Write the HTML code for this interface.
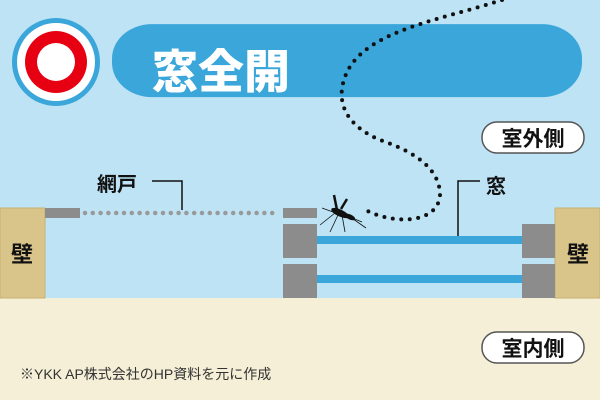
<!DOCTYPE html>
<html><head><meta charset="utf-8"><style>
body{margin:0;width:600px;height:400px;overflow:hidden;background:#bde3f5;font-family:"Liberation Sans","Noto Sans CJK JP",sans-serif;}
</style></head><body>
<svg width="600" height="400" viewBox="0 0 600 400" xmlns="http://www.w3.org/2000/svg" style="display:block">
<rect width="600" height="400" fill="#bde3f5"/>
<rect x="0" y="298" width="600" height="102" fill="#f4efd6"/>
<!-- top banner -->
<rect x="112" y="28" width="470" height="85" rx="40" fill="#3aa6da" transform="scale(1,0.86)"/>
<circle cx="56" cy="62" r="44" fill="#3aa6da"/>
<circle cx="56" cy="62" r="39" fill="#fff"/>
<circle cx="56" cy="62" r="31" fill="#e60012"/>
<circle cx="56" cy="62" r="19" fill="#fff"/>
<text x="152" y="88" font-size="46" font-weight="900" fill="#fff" font-family="Noto Sans CJK JP,sans-serif">窓全開</text>
<!-- labels -->
<rect x="482" y="122" width="102" height="31" rx="15" fill="#fff" stroke="#555" stroke-width="1.5"/>
<text x="533" y="146" font-size="21" font-weight="bold" text-anchor="middle" fill="#111" font-family="Noto Sans CJK JP,sans-serif">室外側</text>
<rect x="482" y="332" width="102" height="31" rx="15" fill="#fff" stroke="#555" stroke-width="1.5"/>
<text x="533" y="356" font-size="21" font-weight="bold" text-anchor="middle" fill="#111" font-family="Noto Sans CJK JP,sans-serif">室内側</text>
<text x="20" y="379" font-size="14" fill="#333" font-family="Liberation Sans,Noto Sans CJK JP,sans-serif">※YKK AP株式会社のHP資料を元に作成</text>
<!-- walls -->
<rect x="0" y="208" width="45" height="90" fill="#d9c48a" stroke="#c8b070"/>
<rect x="555" y="208" width="45" height="90" fill="#d9c48a" stroke="#c8b070"/>
<text x="22" y="262" font-size="22" font-weight="bold" text-anchor="middle" fill="#111" font-family="Noto Sans CJK JP,sans-serif">壁</text>
<text x="578" y="262" font-size="22" font-weight="bold" text-anchor="middle" fill="#111" font-family="Noto Sans CJK JP,sans-serif">壁</text>
<!-- screen -->
<rect x="45" y="208" width="35" height="10" fill="#8c8c8c"/>
<rect x="283" y="208" width="34" height="10" fill="#8c8c8c"/>
<line x1="85" y1="213" x2="280" y2="213" stroke="#999" stroke-width="4.5" stroke-linecap="round" stroke-dasharray="0 7.8"/>
<!-- window -->
<rect x="283" y="224" width="34" height="34" fill="#8c8c8c"/>
<rect x="283" y="264" width="34" height="34" fill="#8c8c8c"/>
<rect x="522" y="224" width="33" height="34" fill="#8c8c8c"/>
<rect x="522" y="264" width="33" height="34" fill="#8c8c8c"/>
<rect x="317" y="236" width="205" height="8" fill="#3aa6da"/>
<rect x="317" y="275" width="205" height="8" fill="#3aa6da"/>
<!-- leaders -->
<text x="97" y="191" font-size="20" font-weight="bold" fill="#111" font-family="Noto Sans CJK JP,sans-serif">網戸</text>
<polyline points="152,181 182,181 182,210" fill="none" stroke="#111" stroke-width="1.5"/>
<text x="486" y="193" font-size="20" font-weight="bold" fill="#111" font-family="Noto Sans CJK JP,sans-serif">窓</text>
<polyline points="480,181 458,181 458,236" fill="none" stroke="#111" stroke-width="1.5"/>
<!-- flight path -->
<path d="M502,0 C440,20 370,30 348,70 C333,100 345,125 380,140 C425,155 440,175 440,195 C438,225 390,225 362,208" fill="none" stroke="#111" stroke-width="4" stroke-linecap="round" stroke-dasharray="0 8.5"/>
<!-- mosquito -->
<g stroke="#111" fill="#111">
<ellipse cx="340" cy="213" rx="9" ry="3" transform="rotate(25 340 213)"/>
<ellipse cx="350" cy="217" rx="5" ry="2" transform="rotate(25 350 217)"/>
<line x1="337" y1="210" x2="334" y2="195" stroke-width="2.5"/>
<line x1="341" y1="209" x2="347" y2="199" stroke-width="2.5"/>
<g stroke-width="0.8" fill="none">
<path d="M335,213 L320,225"/><path d="M338,215 L330,232"/><path d="M342,215 L345,232"/>
<path d="M345,215 L362,222"/><path d="M333,212 L322,208"/><path d="M346,214 L366,228"/>
</g></g>
</svg>
</body></html>
